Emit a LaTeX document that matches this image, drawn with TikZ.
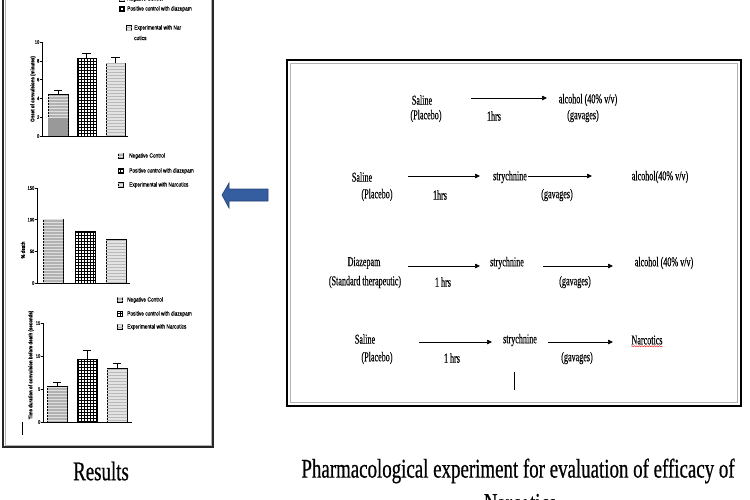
\documentclass[tikz,border=0pt]{standalone}
\usepackage{fontspec}
\setmainfont{Liberation Serif}
\newfontfamily\boxfont[FakeStretch=0.6,FakeBold=0.3]{Liberation Serif}
\newfontfamily\capfont[FakeStretch=0.70,FakeBold=0.6]{Liberation Serif}
\newfontfamily\chartfont[FakeStretch=0.8,FakeBold=0.3]{Liberation Sans}
\usetikzlibrary{arrows.meta,patterns,decorations.pathmorphing}
\definecolor{arrowblue}{RGB}{52,94,160}
\definecolor{arrowedge}{RGB}{38,68,118}
\begin{document}
\begin{tikzpicture}[x=1pt,y=-1pt,
  txt/.style={font=\boxfont\fontsize{13.5}{15}\selectfont, inner sep=0pt},
  arr/.style={-{Triangle[length=5pt,width=4.5pt]}, line width=0.7pt},
  leg/.style={font=\chartfont\fontsize{6}{7}\selectfont, anchor=west, inner sep=0pt},
  ticklab/.style={font=\chartfont\fontsize{5}{6}\selectfont, anchor=east, inner sep=0.5pt},
  ylab/.style={font=\chartfont\bfseries\fontsize{5.5}{6}\selectfont, rotate=90, inner sep=0pt},
  captext/.style={font=\capfont\fontsize{27}{30}\selectfont, inner sep=0pt},
  axisline/.style={line width=0.7pt},
  errbar/.style={line width=0.7pt},
  b1/.style={draw=black, line width=0.6pt, fill=gray!60, postaction={pattern=horizontal lines, pattern color=gray!25}},
  b2/.style={draw=black, line width=0.6pt, fill=white, postaction={pattern=grid, pattern color=black}},
  b3/.style={draw=black, line width=0.6pt, fill=gray!22, postaction={pattern=horizontal lines, pattern color=gray!55}},
  mk/.style={draw=black, line width=0.4pt}
]
\useasboundingbox (0,0) rectangle (750,499);

% ---------- left results panel ----------
\draw[gray!60, line width=1pt] (5,-5) rectangle (211,445);
\draw[black!85, line width=2pt] (3,-5) -- (3,447) -- (213,447) -- (213,-5);

% chart 1
\node[mk, b1, minimum size=5pt, inner sep=0pt] (l1a) at (122,-1) {};
\node[leg] (t1a) at (127,-1) {Negative Control};
\node[mk, b2, minimum size=5pt, inner sep=0pt] (l1b) at (122,9) {};
\node[leg] (t1b) at (127,9) {Positive control with diazepam};
\node[mk, b3, minimum size=5pt, inner sep=0pt] (l1c) at (129,28) {};
\node[leg] (t1c) at (134,28) {Experimental with Nar};
\node[leg] (t1d) at (134,38) {cotics};

\draw[b1] (48,136) rectangle (68,94);
\fill[gray!80] (48.4,118) rectangle (67.6,135.6);
\draw[b2] (77,136) rectangle (96,58);
\draw[b3] (106,136) rectangle (125,63);
\draw[errbar] (58,94) -- (58,90) (54,90) -- (62,90);
\draw[errbar] (86.5,58) -- (86.5,53) (82,53) -- (91,53);
\draw[errbar] (115.5,63) -- (115.5,57) (111,57) -- (120,57);
\draw[axisline] (42,42) -- (42,136) -- (128,136);
\foreach \v/\lab in {0/0,2/2,4/4,6/6,8/8,10/10}{
  \draw[line width=0.5pt] (40,136-\v*9.4) -- (42,136-\v*9.4);
  \node[ticklab] (c1t\v) at (40,136-\v*9.4) {\lab};
}
\node[ylab] (y1) at (33,89) {Onset of convulsions (minutes)};

% chart 2
\node[mk, b1, minimum size=5pt, inner sep=0pt] (l2a) at (120.5,156) {};
\node[leg] (t2a) at (129,156) {Negative Control};
\node[mk, b2, minimum size=5pt, inner sep=0pt] (l2b) at (120.5,171) {};
\node[leg] (t2b) at (129,171) {Positive control with diazepam};
\node[mk, b3, minimum size=5pt, inner sep=0pt] (l2c) at (120.5,185) {};
\node[leg] (t2c) at (129,185) {Experimental with Narcotics};

\draw[b1] (43,283) rectangle (63,219);
\draw[b2] (75,283) rectangle (95,231);
\draw[b3] (106,283) rectangle (126,239);
\draw[axisline] (37,188) -- (37,283) -- (130,283);
\foreach \v in {0,50,100,150}{
  \draw[line width=0.5pt] (35,283-\v*0.633) -- (37,283-\v*0.633);
  \node[ticklab] (c2t\v) at (35,283-\v*0.633) {\v};
}
\node[ylab] (y2) at (23,250) {\% death};

% chart 3
\node[mk, b1, minimum size=5pt, inner sep=0pt] (l3a) at (120,300) {};
\node[leg] (t3a) at (127,300) {Negative Control};
\node[mk, b2, minimum size=5pt, inner sep=0pt] (l3b) at (120,314) {};
\node[leg] (t3b) at (127,314) {Positive control with diazepam};
\node[mk, b3, minimum size=5pt, inner sep=0pt] (l3c) at (120,327) {};
\node[leg] (t3c) at (127,327) {Experimental with Narcotics};

\draw[b1] (47,422) rectangle (67,386);
\draw[b2] (77,422) rectangle (97,359);
\draw[b3] (107,422) rectangle (127,368);
\draw[errbar] (57,386) -- (57,382) (53,382) -- (61,382);
\draw[errbar] (87,359) -- (87,350) (83,350) -- (91,350);
\draw[errbar] (117,368) -- (117,363) (113,363) -- (121,363);
\draw[axisline] (43,323) -- (43,422) -- (132,422);
\foreach \v in {0,5,10,15}{
  \draw[line width=0.5pt] (41,422-\v*6.6) -- (43,422-\v*6.6);
  \node[ticklab] (c3t\v) at (41,422-\v*6.6) {\v};
}
\node[ylab] (y3) at (31,365) {Time duration of convulsion before death (seconds)};
\draw[line width=0.6pt] (22,422) -- (22,435);

% ---------- blue arrow ----------
\filldraw[fill=arrowblue, draw=arrowedge, line width=0.6pt]
  (268,189) -- (229,189) -- (229,183) -- (222,195) -- (229,208) -- (229,201) -- (268,201) -- cycle;

% ---------- right experiment box ----------
\draw[line width=2.5pt] (287,60) rectangle (741,406);
\draw[gray!60, line width=1.2pt] (290.5,63.5) rectangle (737.5,402.5);

% row 1
\node[txt] (s1) at (422,100) {Saline};
\node[txt] (p1) at (426,116) {(Placebo)};
\node[txt] (h1) at (494,116) {1hrs};
\node[txt] (a1) at (588,100) {alcohol (40\% v/v)};
\node[txt] (g1) at (583,116) {(gavages)};
\coordinate (r1a) at (471,98);
\coordinate (r1b) at (547,98);
\draw[arr] (r1a) -- (r1b);

% row 2
\node[txt] (s2) at (362,177) {Saline};
\node[txt] (p2) at (377,195) {(Placebo)};
\node[txt] (h2) at (440,195) {1hrs};
\node[txt] (st2) at (510,177) {strychnine};
\node[txt] (g2) at (557,195) {(gavages)};
\node[txt] (a2) at (660,177) {alcohol(40\% v/v)};
\coordinate (r2a) at (408,176);
\coordinate (r2b) at (480,176);
\coordinate (r2c) at (528,176);
\coordinate (r2d) at (592,176);
\draw[arr] (r2a) -- (r2b);
\draw[arr] (r2c) -- (r2d);

% row 3
\node[txt] (d3) at (364,263) {Diazepam};
\node[txt] (p3) at (365,282) {(Standard therapeutic)};
\node[txt] (h3) at (443,282) {1 hrs};
\node[txt] (st3) at (507,263) {strychnine};
\node[txt] (g3) at (575,282) {(gavages)};
\node[txt] (a3) at (664,263) {alcohol (40\% v/v)};
\coordinate (r3a) at (408,266);
\coordinate (r3b) at (480,266);
\coordinate (r3c) at (543,266);
\coordinate (r3d) at (613,266);
\draw[arr] (r3a) -- (r3b);
\draw[arr] (r3c) -- (r3d);

% row 4
\node[txt] (s4) at (365,339) {Saline};
\node[txt] (p4) at (377,358) {(Placebo)};
\node[txt] (h4) at (452,358) {1 hrs};
\node[txt] (st4) at (520,340) {strychnine};
\node[txt] (g4) at (577,358) {(gavages)};
\node[txt] (n4) at (647,340) {Narcotics};
\draw[red, line width=0.4pt, decorate, decoration={snake, amplitude=0.6pt, segment length=2.5pt}]
  ([yshift=-1.5pt]n4.south west) -- ([yshift=-1.5pt]n4.south east);
\coordinate (r4a) at (419,342);
\coordinate (r4b) at (492,342);
\coordinate (r4c) at (548,342);
\coordinate (r4d) at (613,342);
\draw[arr] (r4a) -- (r4b);
\draw[arr] (r4c) -- (r4d);
\coordinate (v4a) at (514,372);
\coordinate (v4b) at (514,390);
\draw[line width=0.8pt] (v4a) -- (v4b);

% ---------- captions ----------
\node[captext] (res) at (101,471) {Results};
\node[captext] (pe) at (518,471) {Pharmacological experiment for evaluation of efficacy of};
\node[captext] (pe2) at (520,503) {Narcotics};
\end{tikzpicture}
\end{document}
